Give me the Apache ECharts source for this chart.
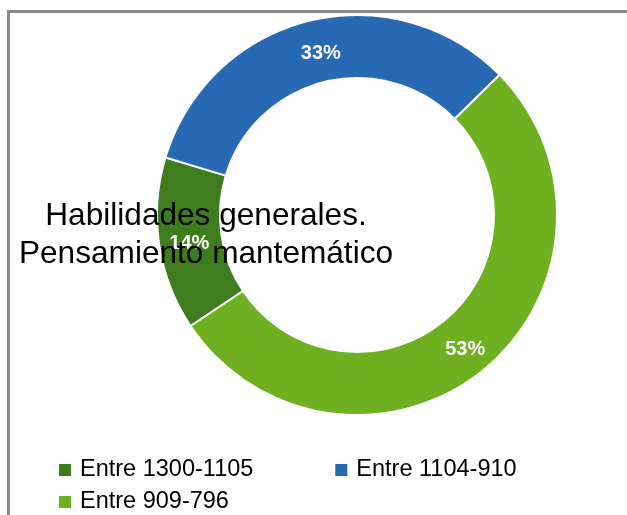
<!DOCTYPE html>
<html><head><meta charset="utf-8">
<script src="https://cdn.jsdelivr.net/npm/echarts@6/dist/echarts.min.js"></script>
<style>html,body{margin:0;padding:0;background:#fff}#c{width:627px;height:515px}</style>
</head><body><div id="c"></div>
<script>
const categories = ["Entre 1300-1105", "Entre 1104-910", "Entre 909-796"];
const values = [14, 33, 53];
const colors = ["#3F7C1D", "#2769B3", "#6EB01F"];
const titleLines = ["Habilidades generales.", "Pensamiento mantemático"];
const labelOffsets = [[2, 3], [5, 5], [0, 1]];

const chart = echarts.init(document.getElementById('c'), null, {renderer: 'canvas'});
const font = '"Liberation Sans", Arial, sans-serif';
const legendCommon = {
  left: 54, itemWidth: 12, itemHeight: 12, icon: 'rect',
  itemStyle: {borderWidth: 0},
  textStyle: {fontFamily: font, fontSize: 23.5, color: '#000', padding: [0, 0, 0, 4]}
};
chart.setOption({
  animation: false,
  graphic: [{
    type: 'rect', z: 0,
    shape: {x: 8.5, y: 11.5, width: 700, height: 600},
    style: {fill: null, stroke: '#8a8a8a', lineWidth: 3}
  }],
  title: {
    text: titleLines.join('\n'),
    left: 201, top: 192, textAlign: 'center', z: 10,
    textStyle: {fontFamily: font, fontSize: 31.6, fontWeight: 'normal', color: '#000', lineHeight: 38}
  },
  legend: [
    Object.assign({data: categories.slice(0, 2), top: 453, itemGap: 82}, legendCommon),
    Object.assign({data: categories.slice(2), top: 485}, legendCommon)
  ],
  series: [{
    type: 'pie',
    center: [357, 215],
    radius: [137, 200],
    startAngle: 213.7,
    clockwise: true,
    avoidLabelOverlap: false,
    itemStyle: {borderColor: '#fff', borderWidth: 2},
    label: {
      show: true, position: 'inside', formatter: '{d}%',
      color: '#fff', fontFamily: font, fontWeight: 'bold', fontSize: 20
    },
    labelLine: {show: false},
    emphasis: {disabled: true},
    data: categories.map((n, i) => ({
      name: n, value: values[i],
      itemStyle: {color: colors[i]},
      label: {offset: labelOffsets[i]}
    }))
  }]
});
</script></body></html>
